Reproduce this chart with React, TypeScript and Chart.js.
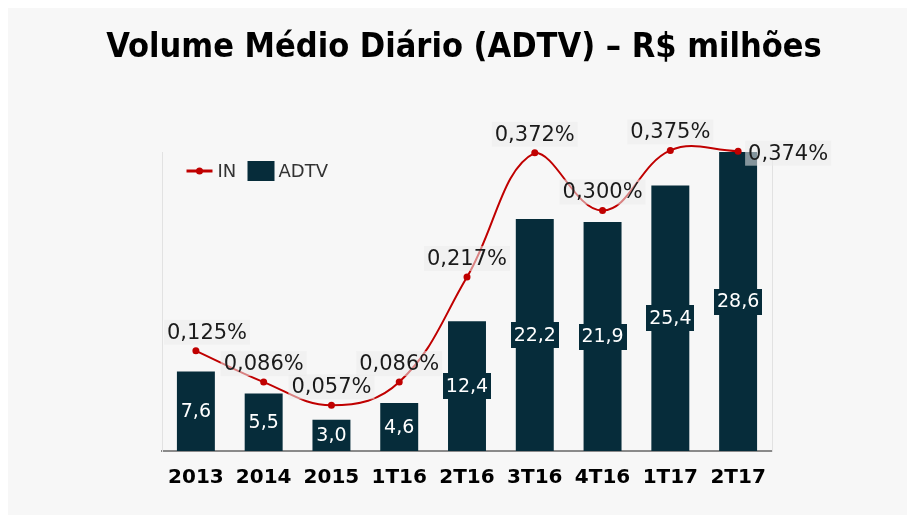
import React, { useEffect, useRef } from 'react';
import { Chart, registerables } from 'chart.js';

Chart.register(...registerables);

const titleText = 'Volume Médio Diário (ADTV) – R$ milhões';
const categories = ['2013', '2014', '2015', '1T16', '2T16', '3T16', '4T16', '1T17', '2T17'];
const adtvValues = [7.6, 5.5, 3.0, 4.6, 12.4, 22.2, 21.9, 25.4, 28.6];
const inValues = [0.125, 0.086, 0.057, 0.086, 0.217, 0.372, 0.3, 0.375, 0.374];
const lineName = 'IN';
const barName = 'ADTV';

const BAR_COLOR = '#062c3a';
const LINE_COLOR = '#c00000';
const FONT = '"DejaVu Sans", Verdana, sans-serif';

const fmtBar = (v: number) => v.toFixed(1).replace('.', ',');
const fmtLine = (v: number) => v.toFixed(3).replace('.', ',') + '%';

const labelPlugin = {
  id: 'valueLabels',
  afterDatasetsDraw(chart: any) {
    const ctx = chart.ctx;
    const area = chart.chartArea;
    ctx.save();
    // bar labels
    const barMeta = chart.getDatasetMeta(1);
    ctx.font = `19px ${FONT}`;
    ctx.textAlign = 'center';
    ctx.textBaseline = 'middle';
    barMeta.data.forEach((el: any, i: number) => {
      const text = fmtBar(adtvValues[i]);
      const { x, y, base } = el.getProps(['x', 'y', 'base'], true);
      const cy = (y + base) / 2;
      const w = Math.round(ctx.measureText(text).width + 6);
      const h = 26;
      ctx.fillStyle = BAR_COLOR;
      ctx.fillRect(Math.round(x - w / 2), Math.round(cy - h / 2), w, h);
      ctx.fillStyle = '#ffffff';
      ctx.fillText(text, x, cy + 1);
    });
    // line labels
    const lineMeta = chart.getDatasetMeta(0);
    const last = lineMeta.data.length - 1;
    ctx.font = `21px ${FONT}`;
    ctx.textAlign = 'left';
    lineMeta.data.forEach((el: any, i: number) => {
      const text = fmtLine(inValues[i]);
      const tw = ctx.measureText(text).width;
      const { x, y } = el.getProps(['x', 'y'], true);
      let left: number;
      let cy: number;
      if (i === last) {
        left = x + 10;
        cy = y + 2;
      } else {
        left = Math.max(x - tw / 2, area.left + 5);
        cy = y - 18.5;
      }
      const padX = 3;
      const h = 25;
      ctx.fillStyle = 'rgba(236,236,236,0.55)';
      ctx.fillRect(left - padX, cy - h / 2, tw + 2 * padX, h);
      ctx.fillStyle = '#1a1a1a';
      ctx.fillText(text, left, cy + 1);
    });
    ctx.restore();
  },
};

const legendPlugin = {
  id: 'insideLegend',
  afterDraw(chart: any) {
    const ctx = chart.ctx;
    const a = chart.chartArea;
    const y = a.top + 19;
    ctx.save();
    const lx = a.left + 24.5;
    ctx.strokeStyle = LINE_COLOR;
    ctx.lineWidth = 3;
    ctx.beginPath();
    ctx.moveTo(lx, y);
    ctx.lineTo(lx + 26, y);
    ctx.stroke();
    ctx.fillStyle = LINE_COLOR;
    ctx.beginPath();
    ctx.arc(lx + 13, y, 3.5, 0, Math.PI * 2);
    ctx.fill();
    ctx.font = `18px ${FONT}`;
    ctx.textBaseline = 'middle';
    ctx.textAlign = 'left';
    ctx.fillStyle = '#333333';
    ctx.fillText(lineName, a.left + 55.5, y + 1);
    const bx = a.left + 85.5;
    ctx.fillStyle = BAR_COLOR;
    ctx.fillRect(bx, y - 10, 27, 20);
    ctx.fillStyle = '#333333';
    ctx.fillText(barName, a.left + 116.5, y + 1);
    ctx.restore();
  },
};

export default function App() {
  const canvasRef = useRef<HTMLCanvasElement | null>(null);

  useEffect(() => {
    if (!canvasRef.current) return;
    const chart = new Chart(canvasRef.current, {
      type: 'bar',
      data: {
        labels: categories,
        datasets: [
          {
            type: 'line',
            label: lineName,
            data: inValues,
            yAxisID: 'y1',
            borderColor: LINE_COLOR,
            backgroundColor: LINE_COLOR,
            borderWidth: 2,
            pointRadius: 3.5,
            pointBackgroundColor: LINE_COLOR,
            pointBorderWidth: 0,
            tension: 0.4,
            clip: false,
            order: 0,
          } as any,
          {
            type: 'bar',
            label: barName,
            data: adtvValues,
            yAxisID: 'y',
            backgroundColor: BAR_COLOR,
            borderWidth: 0,
            barPercentage: 0.56,
            categoryPercentage: 1,
            order: 1,
          } as any,
        ],
      },
      options: {
        responsive: false,
        animation: false,
        layout: { padding: { left: 13, right: 0, top: 0, bottom: 0 } },
        plugins: {
          legend: { display: false },
          tooltip: { enabled: false },
          title: {
            display: true,
            text: titleText,
            color: '#000000',
            font: { family: '"DejaVu Sans Condensed", "DejaVu Sans", sans-serif', size: 34, weight: 'bold' },
            padding: { top: 20, bottom: 83.2 },
          },
        },
        scales: {
          x: {
            grid: { display: false },
            border: { display: true, color: '#8a8a8a', width: 2 },
            ticks: {
              color: '#000000',
              font: { family: FONT, size: 20, weight: 'bold' },
              padding: 7,
              maxRotation: 0,
            },
            afterFit: (s: any) => {
              s.height = 64;
            },
          } as any,
          y: {
            position: 'left',
            min: 0,
            max: 28.6,
            grid: { display: false },
            border: { display: true, color: '#e2e2e2', width: 1 },
            ticks: { display: false },
            afterFit: (s: any) => {
              s.width = 141;
            },
          } as any,
          y1: {
            position: 'right',
            min: 0,
            max: 0.373,
            grid: { display: false },
            border: { display: true, color: '#e2e2e2', width: 1 },
            ticks: { display: false },
            afterFit: (s: any) => {
              s.width = 135;
            },
          } as any,
        },
      },
      plugins: [labelPlugin, legendPlugin],
    });
    return () => chart.destroy();
  }, []);

  return (
    <div style={{ position: 'fixed', left: 8, top: 8, width: 899, height: 507 }}>
      <canvas
        ref={canvasRef}
        width={899}
        height={507}
        style={{ display: 'block', background: '#f7f7f7' }}
      />
    </div>
  );
}
